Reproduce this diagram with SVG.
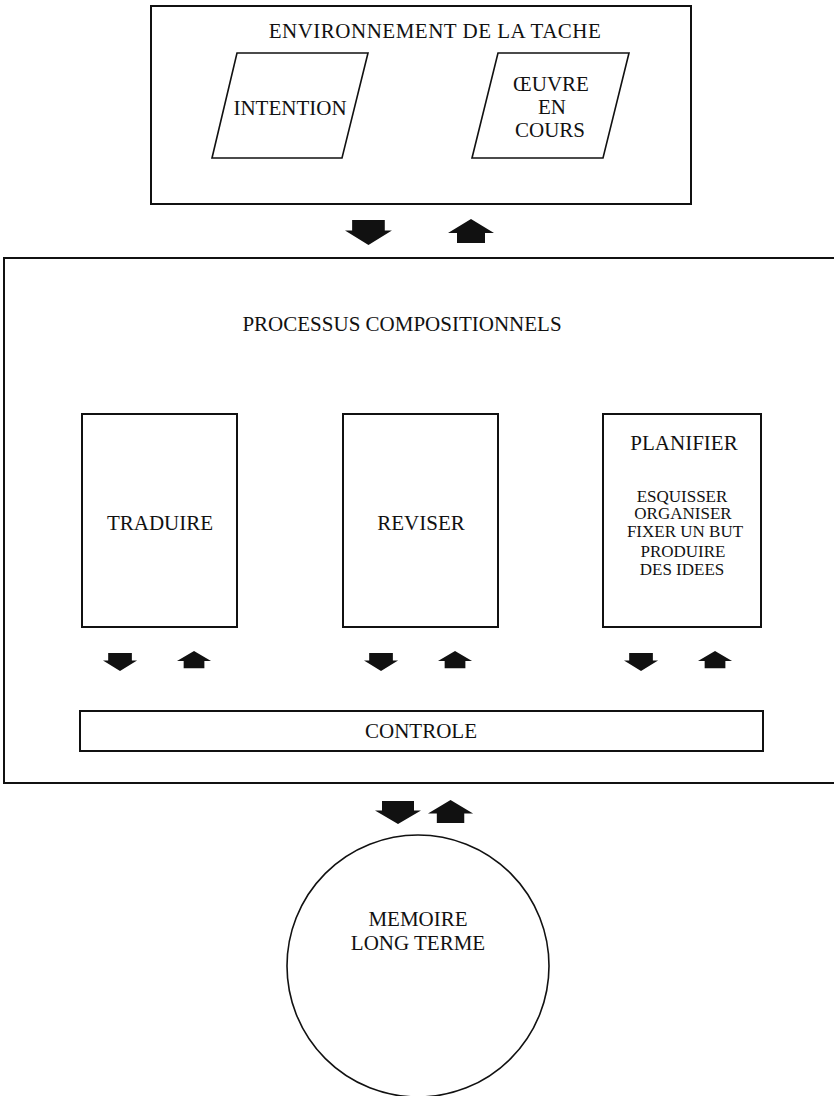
<svg xmlns="http://www.w3.org/2000/svg" xmlns:xlink="http://www.w3.org/1999/xlink" width="834" height="1096" viewBox="0 0 834 1096">
<style>
.box{fill:none;stroke:#111;stroke-width:2}
.thin{fill:none;stroke:#111;stroke-width:1.6}
.lbl{font-family:"Liberation Serif","Times New Roman",serif;font-size:21px;fill:#111;text-anchor:middle}
.sub{font-family:"Liberation Serif","Times New Roman",serif;font-size:17px;fill:#111;text-anchor:middle}
.arr{fill:#111}
</style>
<defs>
<path id="dn" d="M7,0 H39 V10 H46 L23,24 L0,10 H7 Z"/>
<path id="up" d="M23,0 L46,14 H37 V24 H9 V14 H0 Z"/>
</defs>
<rect width="834" height="1096" fill="#fff"/>
<g id="environnement">
<rect class="box" x="151" y="6" width="540" height="198"/>
<text class="lbl" x="435" y="38" letter-spacing="0.5">ENVIRONNEMENT DE LA TACHE</text>
</g>
<g id="intention">
<path class="thin" d="M237,53 H368 L342,158 H212 Z"/>
<text class="lbl" x="290" y="115">INTENTION</text>
</g>
<g id="oeuvre">
<path class="thin" d="M498,53 H629 L603,158 H472 Z"/>
<text class="lbl" x="551" y="91" font-size="20">ŒUVRE</text>
<text class="lbl" x="552" y="114" font-size="20">EN</text>
<text class="lbl" x="550" y="137" font-size="20">COURS</text>
</g>
<g id="processus">
<path class="box" d="M840,258 H4 V783 H840"/>
<text class="lbl" x="402" y="331">PROCESSUS COMPOSITIONNELS</text>
</g>
<g id="traduire">
<rect class="box" x="82" y="414" width="155" height="213"/>
<text class="lbl" x="160" y="530">TRADUIRE</text>
</g>
<g id="reviser">
<rect class="box" x="343" y="414" width="155" height="213"/>
<text class="lbl" x="421" y="530">REVISER</text>
</g>
<g id="planifier">
<rect class="box" x="603" y="414" width="158" height="213"/>
<text class="lbl" x="684" y="450">PLANIFIER</text>
<text class="sub" x="682" y="502">ESQUISSER</text>
<text class="sub" x="683" y="519">ORGANISER</text>
<text class="sub" x="685" y="537">FIXER UN BUT</text>
<text class="sub" x="683" y="557">PRODUIRE</text>
<text class="sub" x="682" y="575">DES IDEES</text>
</g>
<g id="controle">
<rect class="box" x="80" y="711" width="683" height="40"/>
<text class="lbl" x="421" y="738">CONTROLE</text>
</g>
<g id="memoire">
<circle class="thin" cx="418" cy="966" r="131"/>
<text class="lbl" x="418" y="926">MEMOIRE</text>
<text class="lbl" x="418" y="950">LONG TERME</text>
</g>
<g id="connectors" class="arr">
<use xlink:href="#dn" transform="translate(345,220) scale(1.02,1.04)"/>
<use xlink:href="#up" transform="translate(448,219)"/>
<use xlink:href="#dn" transform="translate(103,653) scale(0.74,0.75)"/>
<use xlink:href="#up" transform="translate(177,651) scale(0.74,0.72)"/>
<use xlink:href="#dn" transform="translate(364,653) scale(0.74,0.75)"/>
<use xlink:href="#up" transform="translate(438,651) scale(0.74,0.72)"/>
<use xlink:href="#dn" transform="translate(624,653) scale(0.74,0.75)"/>
<use xlink:href="#up" transform="translate(698,651) scale(0.74,0.72)"/>
<use xlink:href="#dn" transform="translate(375,801) scale(1,0.96)"/>
<use xlink:href="#up" transform="translate(428,800) scale(0.98,0.96)"/>
</g>
</svg>
